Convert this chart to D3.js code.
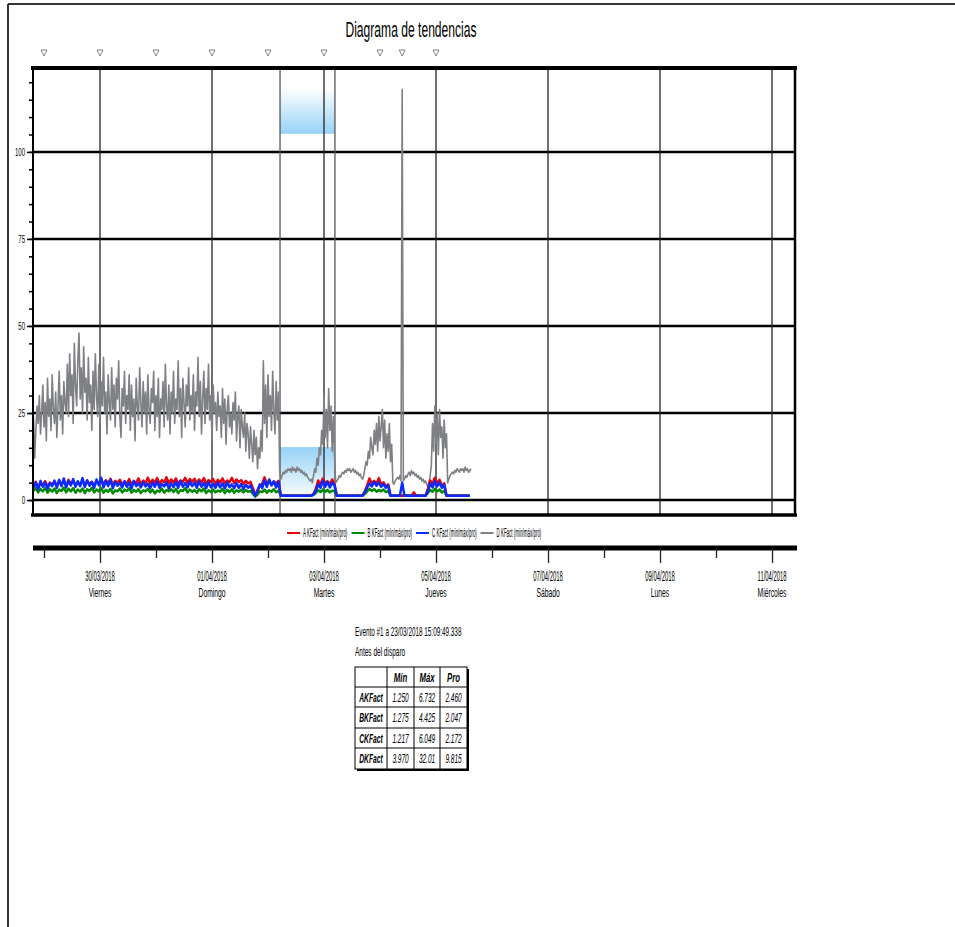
<!DOCTYPE html>
<html>
<head>
<meta charset="utf-8">
<title>Diagrama de tendencias</title>
<script src="https://d3js.org/d3.v7.min.js"></script>
<style>
  body { margin: 0; background: #fff; }
  text { font-family: "Liberation Sans", Arial, sans-serif; fill: #000; }
</style>
</head>
<body>
<script>
// A, B, C: una muestra por hora; D: una cada media hora. Inicio 28/03/2018 19:30
var start = Date.UTC(2018, 2, 28, 19, 30);
var stepABC = 3600e3;
var stepD = 1800e3;

var aKFact = [
  4, 5.2, 3.6, 4.8, 4.3, 5.4, 3.8, 5, 4.5, 5.2,
  4.2, 5.6, 4.4, 5.3, 4.1, 5.8, 4.6, 5.5, 4.3, 5.1,
  4.5, 5.6, 4.2, 5.4, 4.7, 5.2, 4.1, 5.5, 4.6, 5.9,
  4.4, 5.7, 4.8, 6.1, 4.3, 5.5, 4.9, 5.8, 4.5, 5.3,
  4.6, 6, 4.4, 5.4, 4.9, 6.2, 4.5, 5.6, 4.8, 6.4,
  4.7, 5.8, 5, 6.3, 4.6, 5.7, 5.1, 6.5, 4.8, 5.9,
  5, 6.2, 4.7, 5.6, 5.2, 6.4, 4.9, 6, 5.3, 6.1,
  4.8, 5.9, 5.1, 6.3, 4.7, 5.7, 5.2, 6, 4.6, 5.8,
  5, 6.2, 4.8, 5.6, 5.1, 6.4, 4.9, 5.9, 5.2, 5.7,
  4.6, 5.5, 4.8, 5.2, 3.5, 1.5, 2.5, 4.2, 4.6, 6.5,
  4.5, 5.6, 4.3, 5.2, 4.8, 5.5,
  1.25, 1.25, 1.25, 1.25, 1.25, 1.25, 1.25, 1.25, 1.25, 1.25, 1.25, 1.25, 1.25, 1.25,
  1.8, 3.2,
  5.6, 4.4, 6.2, 4.8, 5.4, 4.5, 5.9, 4.6,
  1.25, 1.25, 1.25, 1.25, 1.25, 1.25, 1.25, 1.25, 1.25, 1.25, 1.25, 1.25,
  2.6, 4.2, 6.2, 4.8, 5.5, 4.6, 6.3, 4.4, 5.1, 3.9, 4.5,
  1.25, 1.25, 1.25, 1.25, 1.25,
  1.25,
  1.25, 1.25, 1.25, 1.25, 2.2, 1.25, 1.25, 1.25, 1.25, 1.25,
  3.2, 5.6, 4.6, 6.4, 4.8, 5.8, 4.2, 4.8,
  1.25, 1.25, 1.25, 1.25, 1.25, 1.25, 1.25, 1.25, 1.25, 1.25, 1.25
];

var bKFact = [
  2.6, 3.4, 2.2, 3.2, 2.5, 3.5, 2.1, 3.1, 2.4, 3.3,
  2, 3, 2.6, 3.6, 2.2, 3.2, 2.5, 3.4, 2.1, 3,
  2.4, 3.3, 2, 3.1, 2.6, 3.5, 2.2, 3, 2.5, 3.4,
  2.1, 2.9, 2.4, 3.2, 1.9, 2.8, 2.5, 3.3, 2.2, 3,
  2.6, 3.4, 2.1, 2.9, 2.4, 3.1, 2, 2.8, 2.5, 3.2,
  2.2, 3, 1.9, 2.7, 2.4, 3.3, 2.1, 2.9, 2.5, 3.1,
  2.3, 3.2, 2, 2.8, 2.6, 3.4, 2.2, 3, 2.4, 2.9,
  2.1, 3.1, 2.5, 3.3, 2, 2.8, 2.3, 3, 2.2, 2.7,
  2.4, 3.2, 2, 2.9, 2.3, 3.1, 2.1, 2.8, 2.4, 3,
  2.2, 2.9, 2.4, 2.6, 1.8, 1, 1.6, 2.5, 2.3, 3,
  2.1, 2.8, 2.4, 3.1, 2.2, 2.7,
  1.28, 1.28, 1.28, 1.28, 1.28, 1.28, 1.28, 1.28, 1.28, 1.28, 1.28, 1.28, 1.28, 1.28,
  1.5, 2.1,
  2.8, 2.3, 3, 2.4, 2.9, 2.2, 2.7, 2.5,
  1.28, 1.28, 1.28, 1.28, 1.28, 1.28, 1.28, 1.28, 1.28, 1.28, 1.28, 1.28,
  1.8, 2.5, 3.2, 2.6, 3.1, 2.4, 2.9, 2.5, 3, 2.3, 2.6,
  1.28, 1.28, 1.28, 1.28, 1.28,
  1.28,
  1.28, 1.28, 1.28, 1.28, 1.28, 1.28, 1.28, 1.28, 1.28, 1.28,
  2, 2.9, 2.4, 3.2, 2.5, 3, 2.2, 2.6,
  1.28, 1.28, 1.28, 1.28, 1.28, 1.28, 1.28, 1.28, 1.28, 1.28, 1.28
];

var cKFact = [
  3.5, 5, 3, 5.5, 3.8, 5, 3.2, 4.8, 4, 5.6,
  3.5, 5.8, 4, 6.2, 3.6, 5.5, 4.2, 6, 3.8, 5.4,
  4, 6.3, 3.7, 5.7, 4.1, 5.2, 3.5, 5.9, 4.2, 6.4,
  3.6, 5.5, 4, 5.8, 3.4, 5.2, 4.1, 5, 3.6, 5.4,
  3.8, 5, 3.3, 5.5, 4, 4.8, 3.6, 5.2, 3.9, 4.7,
  3.4, 5, 3.8, 5.3, 3.5, 4.6, 3.9, 5.1, 3.3, 4.8,
  3.7, 5.2, 3.5, 5.5, 3.8, 4.9, 3.6, 5.3, 4, 5,
  3.5, 5.4, 3.8, 4.9, 3.4, 5.2, 3.7, 4.6, 3.5, 5,
  3.6, 4.8, 3.3, 5.1, 3.7, 4.5, 3.4, 4.9, 3.5, 4.6,
  3.2, 4.4, 3.5, 4.2, 2.5, 1.2, 2.8, 4.5, 3.4, 5.6,
  3.8, 5.9, 4.2, 5.4, 3.6, 5.2,
  1.2, 1.2, 1.2, 1.2, 1.2, 1.2, 1.2, 1.2, 1.2, 1.2, 1.2, 1.2, 1.2, 1.2,
  1.6, 2.6,
  4.5, 3.5, 5.5, 3.8, 5.2, 3.6, 5, 4.2,
  1.2, 1.2, 1.2, 1.2, 1.2, 1.2, 1.2, 1.2, 1.2, 1.2, 1.2, 1.2,
  2.2, 3.6, 4.8, 3.9, 5.2, 4.1, 5, 3.8, 4.6, 3.5, 4.2,
  1.2, 1.2, 1.2, 1.2, 1.2,
  5,
  1.2, 1.2, 1.2, 1.2, 1.2, 1.2, 1.2, 1.2, 1.2, 1.2,
  2.5, 4.8, 3.6, 5.4, 3.9, 5, 3.5, 4.4,
  1.2, 1.2, 1.2, 1.2, 1.2, 1.2, 1.2, 1.2, 1.2, 1.2, 1.2
];

var dKFact = [
  24, 12, 20, 27, 22, 30, 19, 25, 33, 21,
  28, 17, 35, 24, 29, 20, 36, 26, 22, 31,
  18, 27, 37, 23, 30, 19, 34, 28, 25, 39,
  24, 42, 30, 36, 22, 45, 33, 27, 40, 48,
  29, 38, 25, 44, 31, 35, 23, 41, 28, 33,
  20, 37, 26, 42, 30, 24, 39, 22, 34, 27,
  41, 25, 31, 19, 36, 28, 23, 38, 26, 33,
  21, 35, 29, 40, 24, 18, 32, 27, 37, 22,
  30, 26, 36, 20, 33, 24, 29, 17, 35, 27,
  23, 38, 28, 21, 34, 25, 31, 19, 36, 26,
  22, 32, 28, 37, 20, 30, 24, 35, 18, 29,
  26, 34, 21, 39, 27, 23, 33, 19, 31, 25,
  37, 22, 29, 26, 40, 24, 32, 18, 35, 28,
  21, 33, 27, 38, 23, 30, 25, 36, 20, 31,
  27, 41, 24, 34, 19, 29, 37, 22, 32, 26,
  39, 23, 30, 17, 33, 25, 28, 20, 31, 24,
  27, 18, 32, 22, 29, 16, 26, 30, 21, 25,
  19, 28, 23, 31, 17, 24, 27, 15, 26, 21,
  18, 25, 14, 22, 19, 12, 21, 16, 11, 20,
  13, 18, 9, 15, 12, 20, 14, 40, 22, 33,
  18, 36, 24, 30, 20, 37, 26, 19, 34, 23,
  31, 8,
  6, 7, 8, 7.5, 8.5, 8, 9, 8.5, 9, 8, 9.5, 8.5, 9, 8, 9.5, 8.5, 9, 8, 8.5, 7.5, 8, 7, 7.5, 6.5, 6, 5.5, 6,
  5, 7, 9, 8, 12, 10, 15, 13, 20,
  16, 30, 18, 26, 15, 32, 20, 27, 14, 24, 13,
  5, 5.5, 6, 7, 6.5, 7.5, 8, 7.5, 8.5, 8, 9, 8.5, 9, 8, 8.5, 9, 8, 8.5, 7.5, 8, 7, 7.5, 6.5, 6, 7,
  9, 11, 10, 14, 12, 18, 15, 13, 20, 16, 22, 14, 24, 17, 21, 26, 15, 23, 12, 19, 14, 22, 11, 16,
  5, 4.5, 5.5, 6, 6.5, 6, 7, 5.5,
  118,
  5.5, 6, 7, 6.5, 7.5, 8, 7, 8.5, 7.5, 8, 7, 7.5, 6.5, 7, 6, 6.5, 5.5, 6, 5, 5.5, 4.5, 4, 5,
  7, 10, 22, 14, 27, 16, 25, 13, 26, 18, 21, 12, 23, 15, 19,
  5, 6, 7, 7.5, 8, 7.5, 8.5, 8, 9, 8.5, 8, 9, 8.5, 9, 8, 9.5, 8.5, 9, 8, 8.5, 9
];

var seriesNames = ["A KFact (mín/máx/pro)", "B KFact (mín/máx/pro)", "C KFact (mín/máx/pro)", "D KFact (mín/máx/pro)"];
var seriesColors = ["#e8000b", "#008a00", "#0a2bff", "#7e8084"];

var dateLabels = ["30/03/2018", "01/04/2018", "03/04/2018", "05/04/2018", "07/04/2018", "09/04/2018", "11/04/2018"];
var dayNames = ["Viernes", "Domingo", "Martes", "Jueves", "Sábado", "Lunes", "Miércoles"];
var yLabels = [0, 25, 50, 75, 100];

var markerTimes = [
  Date.UTC(2018, 2, 29), Date.UTC(2018, 2, 30), Date.UTC(2018, 2, 31),
  Date.UTC(2018, 3, 1), Date.UTC(2018, 3, 2), Date.UTC(2018, 3, 3),
  Date.UTC(2018, 3, 4), Date.UTC(2018, 3, 4, 9, 30), Date.UTC(2018, 3, 5)
];
var eventStart = Date.UTC(2018, 3, 2, 5, 9);
var eventEnd = Date.UTC(2018, 3, 3, 4, 41);

var tableRows = ["AKFact", "BKFact", "CKFact", "DKFact"];
var tableCols = ["Mín", "Máx", "Pro"];
var tableMin = ["1.250", "1.275", "1.217", "3.970"];
var tableMax = ["6.732", "4.425", "6.049", "32.01"];
var tablePro = ["2.460", "2.047", "2.172", "9.815"];

var svg = d3.select("body").append("svg")
    .attr("width", 955)
    .attr("height", 927);

// texto estrecho (la imagen original está comprimida en horizontal)
function sText(g, x, y, str, size, sx, anchor, weight, style) {
  return g.append("text")
      .attr("transform", "translate(" + x + "," + y + ") scale(" + sx + ",1)")
      .attr("text-anchor", anchor || "start")
      .style("font-size", size + "px")
      .style("font-weight", weight || "normal")
      .style("font-style", style || "normal")
      .text(str);
}

// marco de la página
svg.append("line").attr("x1", 8).attr("y1", 4).attr("x2", 955).attr("y2", 4)
    .attr("stroke", "#333").attr("stroke-width", 2);
svg.append("line").attr("x1", 8).attr("y1", 4).attr("x2", 8).attr("y2", 927)
    .attr("stroke", "#333").attr("stroke-width", 2);

sText(svg, 411, 37, "Diagrama de tendencias", 22, 0.55, "middle");

var x = d3.scaleUtc()
    .domain([Date.UTC(2018, 2, 28, 19, 17), Date.UTC(2018, 3, 11, 9, 51)])
    .range([33, 795]);
var y = d3.scaleLinear().domain([-4.3, 124.1]).range([515, 68]);

var parseDay = d3.utcParse("%d/%m/%Y");
var majorDays = dateLabels.map(parseDay);
var minorDays = majorDays.map(function(d) { return d3.utcDay.offset(d, -1); });

var defs = svg.append("defs");
var gLow = defs.append("linearGradient").attr("id", "shadeLow")
    .attr("x1", 0).attr("y1", 0).attr("x2", 0).attr("y2", 1);
gLow.append("stop").attr("offset", 0).attr("stop-color", "#96d2f7");
gLow.append("stop").attr("offset", 1).attr("stop-color", "#ffffff");
var gHigh = defs.append("linearGradient").attr("id", "shadeHigh")
    .attr("x1", 0).attr("y1", 0).attr("x2", 0).attr("y2", 1);
gHigh.append("stop").attr("offset", 0).attr("stop-color", "#ffffff");
gHigh.append("stop").attr("offset", 1).attr("stop-color", "#96d2f7");

// zonas del evento
svg.append("rect")
    .attr("x", x(eventStart)).attr("width", x(eventEnd) - x(eventStart))
    .attr("y", y(15.2)).attr("height", y(0) - y(15.2))
    .attr("fill", "url(#shadeLow)");
svg.append("rect")
    .attr("x", x(eventStart)).attr("width", x(eventEnd) - x(eventStart))
    .attr("y", y(118.4)).attr("height", y(105.2) - y(118.4))
    .attr("fill", "url(#shadeHigh)");

// marcadores
svg.selectAll("path.marker")
    .data(markerTimes)
    .enter().append("path")
    .attr("class", "marker")
    .attr("d", function(d) {
      var cx = x(d);
      return "M" + (cx - 3) + ",50L" + (cx + 3) + ",50L" + cx + ",56Z";
    })
    .attr("fill", "none")
    .attr("stroke", "#666")
    .attr("stroke-width", 0.8);

// rejilla horizontal
svg.selectAll("line.hgrid")
    .data(yLabels)
    .enter().append("line")
    .attr("class", "hgrid")
    .attr("x1", 33).attr("x2", 795)
    .attr("y1", function(d) { return y(d); })
    .attr("y2", function(d) { return y(d); })
    .attr("stroke", "#000")
    .attr("stroke-width", 2.5);

// rejilla vertical
svg.selectAll("line.vgrid")
    .data(majorDays)
    .enter().append("line")
    .attr("class", "vgrid")
    .attr("x1", function(d) { return x(d); })
    .attr("x2", function(d) { return x(d); })
    .attr("y1", 68).attr("y2", 515)
    .attr("stroke", "#222")
    .attr("stroke-width", 1.3);
svg.selectAll("line.evline")
    .data([eventStart, eventEnd])
    .enter().append("line")
    .attr("class", "evline")
    .attr("x1", function(d) { return x(d); })
    .attr("x2", function(d) { return x(d); })
    .attr("y1", 68).attr("y2", 515)
    .attr("stroke", "#555")
    .attr("stroke-width", 1.3);

// series
function lineFor(step) {
  return d3.line()
      .x(function(d, i) { return x(start + i * step); })
      .y(function(d) { return y(d); });
}

var drawOrder = [
  {v: dKFact, c: seriesColors[3], w: 1.6, step: stepD},
  {v: bKFact, c: seriesColors[1], w: 2.5, step: stepABC},
  {v: aKFact, c: seriesColors[0], w: 2.5, step: stepABC},
  {v: cKFact, c: seriesColors[2], w: 2.5, step: stepABC}
];
drawOrder.forEach(function(s) {
  svg.append("path")
      .datum(s.v)
      .attr("d", lineFor(s.step))
      .attr("fill", "none")
      .attr("stroke", s.c)
      .attr("stroke-width", s.w)
      .attr("stroke-linejoin", "round");
});

// bordes del gráfico
svg.append("line").attr("x1", 31).attr("x2", 797).attr("y1", 68).attr("y2", 68)
    .attr("stroke", "#000").attr("stroke-width", 4);
svg.append("line").attr("x1", 31).attr("x2", 797).attr("y1", 515).attr("y2", 515)
    .attr("stroke", "#000").attr("stroke-width", 3.5);
svg.append("line").attr("x1", 795).attr("x2", 795).attr("y1", 68).attr("y2", 515)
    .attr("stroke", "#000").attr("stroke-width", 2.5);

// eje Y
var yAxisMinor = d3.axisLeft(y).tickValues(d3.range(0, 125, 5)).tickSize(4).tickFormat("");
svg.append("g").attr("transform", "translate(33,0)").call(yAxisMinor)
    .call(function(g) {
      g.select(".domain").attr("stroke-width", 2).attr("d", "M0,68V515");
      g.selectAll(".tick line").attr("stroke-width", 1.5);
    });
var yAxisMajor = d3.axisLeft(y).tickValues(yLabels).tickSize(6).tickFormat("");
svg.append("g").attr("transform", "translate(33,0)").call(yAxisMajor)
    .call(function(g) {
      g.select(".domain").remove();
      g.selectAll(".tick line").attr("stroke-width", 1.5);
    });
yLabels.forEach(function(v) {
  sText(svg, 25, y(v) + 4, String(v), 11, 0.55, "end");
});

// leyenda
var leg = svg.append("g").attr("transform", "translate(287,533)");
seriesNames.forEach(function(name, i) {
  var lx = i * 64.5;
  leg.append("line").attr("x1", lx).attr("x2", lx + 13).attr("y1", 0).attr("y2", 0)
      .attr("stroke", seriesColors[i]).attr("stroke-width", 2);
  sText(leg, lx + 16, 4, name, 12, 0.37, "start");
});

// eje de tiempo inferior
var xAxisMajor = d3.axisBottom(x).tickValues(majorDays).tickSize(15).tickFormat("");
svg.append("g").attr("transform", "translate(0,548)").call(xAxisMajor)
    .call(function(g) {
      g.select(".domain").attr("stroke-width", 5).attr("d", "M33,0H797");
      g.selectAll(".tick line").attr("stroke", "#222").attr("stroke-width", 1.3);
    });
var xAxisMinor = d3.axisBottom(x).tickValues(minorDays).tickSize(10).tickFormat("");
svg.append("g").attr("transform", "translate(0,548)").call(xAxisMinor)
    .call(function(g) {
      g.select(".domain").remove();
      g.selectAll(".tick line").attr("stroke", "#222").attr("stroke-width", 1.3);
    });
majorDays.forEach(function(d, i) {
  sText(svg, x(d), 581, dateLabels[i], 14, 0.42, "middle");
  sText(svg, x(d), 597, dayNames[i], 13.5, 0.5, "middle");
});

// información del evento
sText(svg, 355, 636, "Evento #1 a 23/03/2018 15:09:49.338", 13, 0.49, "start");
sText(svg, 355, 656, "Antes del disparo", 13, 0.5, "start");

// tabla de estadísticas
var colW = [32, 27, 26, 27];
var rowH = [20, 20, 21, 20, 21];
var tx0 = 355, ty0 = 667;
var colX = [tx0];
colW.forEach(function(w) { colX.push(colX[colX.length - 1] + w); });
var rowY = [ty0];
rowH.forEach(function(h) { rowY.push(rowY[rowY.length - 1] + h); });
var tW = colX[colX.length - 1] - tx0, tH = rowY[rowY.length - 1] - ty0;

var tbl = svg.append("g");
tbl.append("rect").attr("x", tx0 + 2).attr("y", ty0 + 2).attr("width", tW).attr("height", tH)
    .attr("fill", "#000");
tbl.append("rect").attr("x", tx0).attr("y", ty0).attr("width", tW).attr("height", tH)
    .attr("fill", "#fff").attr("stroke", "#000").attr("stroke-width", 1);
colX.slice(1, -1).forEach(function(cx) {
  tbl.append("line").attr("x1", cx).attr("x2", cx).attr("y1", ty0).attr("y2", ty0 + tH)
      .attr("stroke", "#000").attr("stroke-width", 1);
});
rowY.slice(1, -1).forEach(function(ry) {
  tbl.append("line").attr("x1", tx0).attr("x2", tx0 + tW).attr("y1", ry).attr("y2", ry)
      .attr("stroke", "#000").attr("stroke-width", 1);
});
tableCols.forEach(function(c, j) {
  sText(tbl, (colX[j + 1] + colX[j + 2]) / 2, rowY[0] + 15, c, 13, 0.6, "middle", "bold", "italic");
});
tableRows.forEach(function(r, i) {
  var by = rowY[i + 1] + 15;
  sText(tbl, (colX[0] + colX[1]) / 2, by, r, 13, 0.52, "middle", "bold", "italic");
  [tableMin[i], tableMax[i], tablePro[i]].forEach(function(v, j) {
    sText(tbl, (colX[j + 1] + colX[j + 2]) / 2, by, v, 13, 0.5, "middle", "normal", "italic");
  });
});
</script>
</body>
</html>
